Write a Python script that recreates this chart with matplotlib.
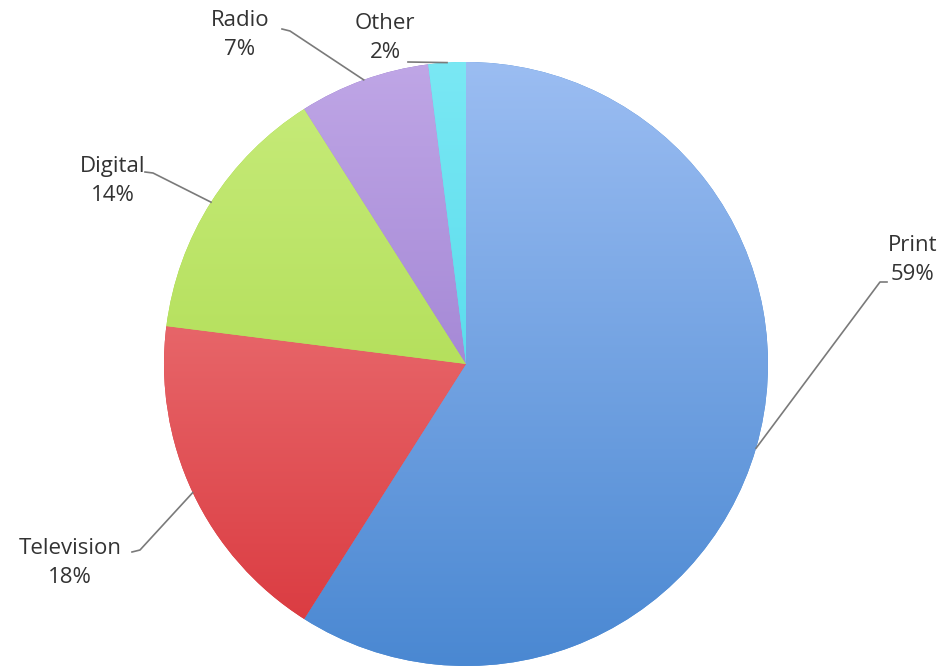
import numpy as np
import matplotlib
matplotlib.use("Agg")
import matplotlib.pyplot as plt
from matplotlib.colors import LinearSegmentedColormap

categories = ["Print", "Television", "Digital", "Radio", "Other"]
shares = [59, 18, 14, 7, 2]
top_colors = ["#9bbdf2", "#f28a8c", "#c8ec7c", "#bfa6e6", "#7ae8f4"]
bottom_colors = ["#4a88d2", "#d9363c", "#a2d43e", "#8c6cc6", "#3cd2e6"]

# label text positions in pixels (x, y from top)
label_pos_px = {
    "Print": (913, 260),
    "Television": (70, 563),
    "Digital": (113, 181),
    "Radio": (240, 35),
    "Other": (385, 38),
}

W, H = 943, 670
cx, cy, R = 466, 364, 302
fig = plt.figure(figsize=(W / 100, H / 100), dpi=100)
fig.patch.set_facecolor("white")
ax = fig.add_axes([(cx - R) / W, (H - cy - R) / H, 2 * R / W, 2 * R / H])

wedges, _ = ax.pie(shares, startangle=90, counterclock=False, radius=1,
                   colors=bottom_colors, wedgeprops=dict(linewidth=0))

grad = np.linspace(0, 1, 256).reshape(-1, 1)
for w, c1, c2 in zip(wedges, top_colors, bottom_colors):
    cmap = LinearSegmentedColormap.from_list("g", [c1, c2])
    im = ax.imshow(grad, extent=[-1, 1, -1, 1], origin="upper", cmap=cmap,
                   aspect="auto", zorder=2, interpolation="bilinear")
    im.set_clip_path(w)

ax.set_xlim(-1, 1)
ax.set_ylim(-1, 1)
ax.set_aspect("auto")
ax.axis("off")

def to_data(px, py):
    return (px - cx) / R, (cy - py) / R

font = ["Open Sans", "DejaVu Sans"]
lc = "#7a7a7a"
for w, name, val in zip(wedges, categories, shares):
    ang = np.deg2rad((w.theta1 + w.theta2) / 2)
    ex, ey = np.cos(ang), np.sin(ang)
    tx, ty = to_data(*label_pos_px[name])
    ax.text(tx, ty, f"{name}\n{val}%", ha="center", va="center",
            fontsize=16, color="#333333", family=font, linespacing=1.45,
            zorder=5, clip_on=False)
    if name == "Print":
        sx, sy = to_data(880, 282)
        kx, ky = to_data(887, 282)
        ax.plot([kx, sx, ex], [ky, sy, ey], color=lc, lw=1.2, zorder=4, clip_on=False)
    elif name == "Television":
        sx, sy = to_data(132, 552)
        kx, ky = to_data(140, 550)
        ax.plot([sx, kx, ex], [sy, ky, ey], color=lc, lw=1.2, zorder=4, clip_on=False)
    elif name == "Digital":
        sx, sy = to_data(145, 172)
        kx, ky = to_data(153, 173)
        ax.plot([sx, kx, ex], [sy, ky, ey], color=lc, lw=1.2, zorder=4, clip_on=False)
    elif name == "Radio":
        sx, sy = to_data(282, 29)
        kx, ky = to_data(290, 31)
        ax.plot([sx, kx, ex], [sy, ky, ey], color=lc, lw=1.2, zorder=4, clip_on=False)
    elif name == "Other":
        sx, sy = to_data(408, 62)
        ax.plot([sx, ex], [sy, ey], color=lc, lw=1.2, zorder=4, clip_on=False)

fig.savefig("out.png", dpi=100, facecolor="white")
